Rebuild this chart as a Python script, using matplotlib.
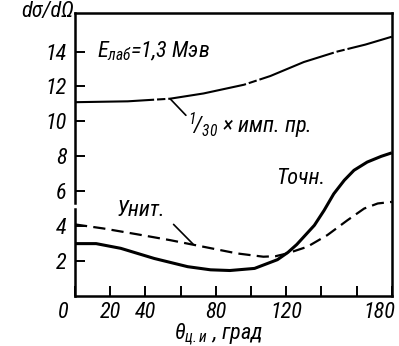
import matplotlib
matplotlib.use("Agg")
import matplotlib.pyplot as plt
import matplotlib.transforms as mtransforms

plt.rcParams['font.family'] = ['Roboto Condensed', 'DejaVu Sans']
plt.rcParams['font.style'] = 'italic'
plt.rcParams['mathtext.fontset'] = 'custom'
plt.rcParams['mathtext.it'] = 'Roboto Condensed:italic'
plt.rcParams['mathtext.rm'] = 'Roboto Condensed:italic'
plt.rcParams['mathtext.default'] = 'it'

#---------------------------------------------------------------------
# data (theta in degrees, dsigma/dOmega)
#---------------------------------------------------------------------
theta_exact = [0, 12, 26, 45, 64, 77, 88, 102, 115, 121, 126, 136, 141.5,
               147, 153, 158.5, 166, 174, 180]
exact = [3.0, 3.0, 2.73, 2.15, 1.68, 1.5, 1.46, 1.58, 2.08, 2.5, 2.95,
         4.05, 4.9, 5.85, 6.63, 7.2, 7.67, 8.0, 8.2]

theta_unit = [0, 16, 35, 54, 73, 92, 107, 114, 120.6, 132, 143.4, 154.8,
              164.3, 172, 180]
unit = [4.1, 3.87, 3.54, 3.2, 2.82, 2.44, 2.25, 2.28, 2.44, 2.82, 3.49,
        4.34, 5.01, 5.3, 5.39]

theta_imp = [0, 30, 54, 73, 96, 111, 130, 149, 165, 180]
imp = [11.1, 11.15, 11.3, 11.6, 12.1, 12.6, 13.4, 14.0, 14.4, 14.85]

yticks = [2, 4, 6, 8, 10, 12, 14]
xticks = [0, 20, 40, 60, 80, 100, 120, 140, 160, 180]
xticklabels = ['0', '20', '40', '', '80', '', '120', '', '', '180']

ytop = 16.2
fs = 16

#---------------------------------------------------------------------
# plot
#---------------------------------------------------------------------
fig = plt.figure(figsize=(3.99, 3.46), dpi=100)
ax = fig.add_axes([0.188, 0.1445, 0.794, 0.8175])

ax.plot(theta_imp, imp, color='black', lw=1.5, dashes=(38, 1.4, 4, 1.4))
ax.plot(theta_exact, exact, color='black', lw=2.2, solid_capstyle='butt',
        solid_joinstyle='round')
ax.plot(theta_unit, unit, color='black', lw=1.6, dashes=(5.5, 2.8))

ax.set_xlim(0, 180)
ax.set_ylim(0, ytop)

ax.set_xticks(xticks)
ax.set_xticklabels(xticklabels)
ax.set_yticks(yticks)
ax.tick_params(direction='in', length=7, width=1.4, labelsize=fs, pad=6)
ax.tick_params(axis='x', pad=4)

# shift the end labels like in the original
for lab in ax.get_xticklabels():
    if lab.get_text() == '0':
        lab.set_ha('right')
        lab.set_transform(lab.get_transform() +
                          mtransforms.ScaledTranslation(-6 / 100, 0, fig.dpi_scale_trans))
    if lab.get_text() == '180':
        lab.set_ha('right')
        lab.set_transform(lab.get_transform() +
                          mtransforms.ScaledTranslation(3 / 100, 0, fig.dpi_scale_trans))

for s in ax.spines.values():
    s.set_linewidth(1.8)
# broken left axis
ax.spines['left'].set_bounds(5.35, ytop)
ax.axvline(0, 0, 5.0 / ytop, color='black', lw=1.8, clip_on=False)

# labels
fig.text(48 / 399, 1 - 12 / 346, 'dσ/dΩ', ha='center', va='center', fontsize=fs)
fig.text(219 / 399, 1 - 334 / 346, r'$\theta_{ц.и}$ , град', ha='center',
         va='center', fontsize=fs)

ax.text(12.5, 14.0, r'$E_{лаб}$=1,3 Мэв', ha='left', va='center', fontsize=fs)
ax.text(64, 9.75, r'${}^{1}\!/_{30}$ × имп. пр.', ha='left', va='center', fontsize=fs)
ax.text(37.5, 4.9, 'Унит.', ha='center', va='center', fontsize=fs)
ax.text(128, 6.75, 'Точн.', ha='center', va='center', fontsize=fs)

# leader lines
ax.annotate('', xy=(54, 11.3), xytext=(63, 10.35),
            arrowprops=dict(arrowstyle='-', lw=1.2, shrinkA=0, shrinkB=0))
ax.annotate('', xy=(67, 2.98), xytext=(56, 4.1),
            arrowprops=dict(arrowstyle='-', lw=1.2, shrinkA=0, shrinkB=0))

fig.savefig('out.png', dpi=100)
